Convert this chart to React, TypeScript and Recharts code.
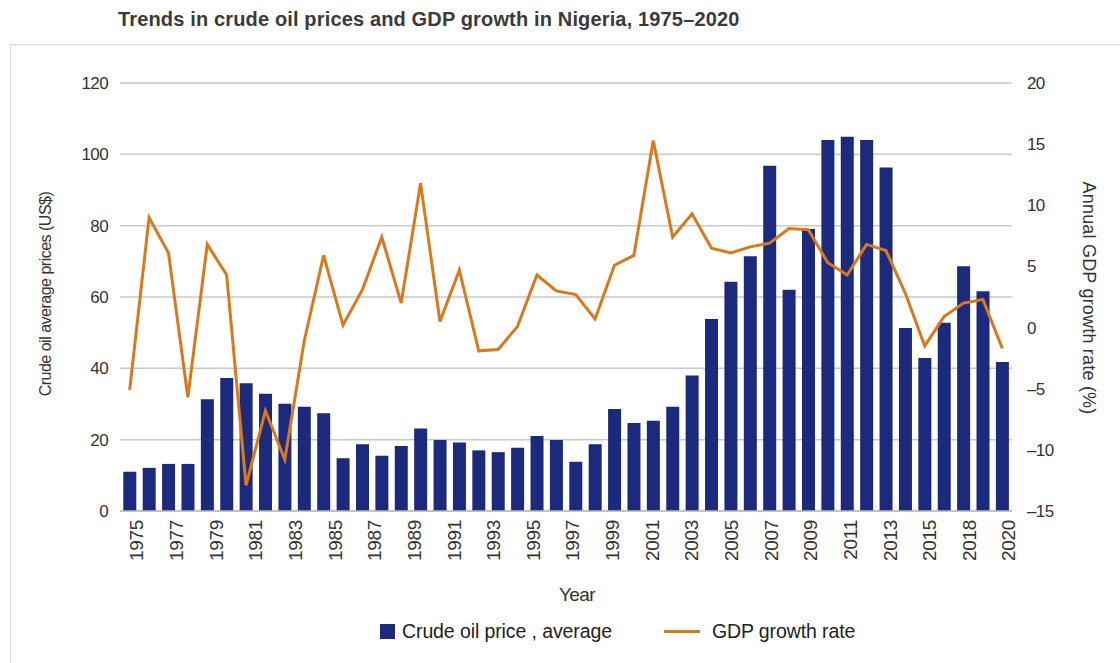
import {
  ComposedChart,
  Bar,
  Line,
  XAxis,
  YAxis,
  CartesianGrid,
  Legend,
} from 'recharts';

const years = [
  '1975', '1976', '1977', '1978', '1979', '1980', '1981', '1982', '1983', '1984',
  '1985', '1986', '1987', '1988', '1989', '1990', '1991', '1992', '1993', '1994',
  '1995', '1996', '1997', '1998', '1999', '2000', '2001', '2002', '2003', '2004',
  '2005', '2006', '2007', '2008', '2009', '2010', '2011', '2012', '2013', '2014',
  '2015', '2016', '2017', '2018', '2019', '2020',
];

// crude oil price, average (US$)
const oilPrice = [
  11.0, 12.1, 13.2, 13.2, 31.3, 37.3, 35.8, 32.9, 30.1, 29.2,
  27.4, 14.8, 18.7, 15.5, 18.2, 23.1, 19.9, 19.2, 17.0, 16.5,
  17.7, 21.0, 19.9, 13.8, 18.7, 28.6, 24.7, 25.3, 29.2, 38.0,
  53.8, 64.3, 71.4, 96.8, 62.0, 79.1, 104.0, 104.9, 104.0, 96.3,
  51.3, 42.9, 52.8, 68.6, 61.6, 41.8,
];

// annual GDP growth rate (%)
const gdpGrowth = [
  -5.1, 9.0, 6.1, -5.7, 6.8, 4.3, -12.9, -6.8, -10.8, -1.1,
  5.9, 0.2, 3.1, 7.4, 2.0, 11.8, 0.5, 4.7, -1.9, -1.8,
  0.1, 4.3, 3.0, 2.7, 0.7, 5.1, 5.9, 15.3, 7.4, 9.3,
  6.5, 6.1, 6.6, 6.9, 8.1, 8.0, 5.3, 4.3, 6.8, 6.3,
  2.8, -1.5, 0.9, 2.0, 2.3, -1.7,
];

// x axis labels as printed (every other year, spread across the bars)
const xTickLabels = [
  '1975', '1977', '1979', '1981', '1983', '1985', '1987', '1989', '1991', '1993',
  '1995', '1997', '1999', '2001', '2003', '2005', '2007', '2009', '2011', '2013',
  '2015', '2018', '2020',
];

const priceTicks = [0, 20, 40, 60, 80, 100, 120];
const growthTicks = [-15, -10, -5, 0, 5, 10, 15, 20];

const BAR_COLOR = '#1b2a7d';
const LINE_COLOR = '#d9791a';
const TEXT_COLOR = '#333333';
const FONT = '"Liberation Sans", Arial, sans-serif';

const chartData = years.map((year, i) => ({
  year,
  oil: oilPrice[i],
  gdp: gdpGrowth[i],
}));

const labelData = xTickLabels.map((label) => ({ label }));

function renderLegend(props: any) {
  const items = (props.payload || []).filter((p: any) => p.type !== 'none');
  return (
    <div style={{ display: 'flex', alignItems: 'center', marginLeft: 380, height: 30 }}>
      {items.map((entry: any) => (
        <div
          key={entry.value}
          style={{ display: 'flex', alignItems: 'center', marginRight: 52 }}
        >
          {entry.type === 'square' ? (
            <span style={{ width: 15, height: 15, background: entry.color, marginRight: 7 }} />
          ) : (
            <span style={{ width: 36, height: 3, background: entry.color, marginRight: 12 }} />
          )}
          <span style={{ fontSize: 19.5, color: '#222', letterSpacing: -0.1 }}>{entry.value}</span>
        </div>
      ))}
    </div>
  );
}

function AxisTitle({ x, y, angle, size, spacing, text }: any) {
  return (
    <text
      x={x}
      y={y}
      transform={`rotate(${angle} ${x} ${y})`}
      textAnchor="middle"
      dominantBaseline="central"
      fontSize={size}
      fill={TEXT_COLOR}
      letterSpacing={spacing}
    >
      {text}
    </text>
  );
}

function App() {
  return (
    <div
      style={{
        position: 'fixed',
        left: 0,
        top: 0,
        width: 1120,
        height: 663,
        background: '#fff',
        fontFamily: FONT,
        overflow: 'hidden',
      }}
    >
      <div
        style={{
          position: 'absolute',
          left: 118,
          top: 8,
          fontSize: 20,
          fontWeight: 'bold',
          color: '#3a3a3a',
          letterSpacing: 0.15,
        }}
      >
        Trends in crude oil prices and GDP growth in Nigeria, 1975–2020
      </div>
      <div
        style={{
          position: 'absolute',
          left: 10,
          top: 44,
          width: 1120,
          height: 700,
          border: '1px solid #d6d6d6',
        }}
      />
      <div style={{ position: 'absolute', left: 0, top: 0 }}>
        <ComposedChart
          width={1120}
          height={663}
          data={chartData}
          margin={{ top: 83, right: 0, bottom: 30, left: 0 }}
          barCategoryGap="17%"
          style={{ fontFamily: FONT }}
        >
          <CartesianGrid yAxisId="left" vertical={false} stroke="#c9c9c9" strokeWidth={1.5} />
          <XAxis dataKey="year" hide height={0} />
          <XAxis
            xAxisId="lbl"
            dataKey="label"
            type="category"
            scale="point"
            padding={{ left: 10, right: 10 }}
            height={92}
            interval={0}
            tickLine={false}
            tickSize={0}
            tickMargin={9}
            axisLine={{ stroke: '#bdbdbd', strokeWidth: 1.5 }}
            tick={{
              angle: -90,
              textAnchor: 'end',
              verticalAnchor: 'middle',
              fontSize: 19,
              fill: TEXT_COLOR,
              letterSpacing: -0.3,
            }}
            label={{
              value: 'Year',
              position: 'insideBottom',
              offset: 2,
              dx: 11,
              fontSize: 19,
              fill: TEXT_COLOR,
              letterSpacing: -0.6,
            }}
          />
          <YAxis
            yAxisId="left"
            domain={[0, 120]}
            ticks={priceTicks}
            width={120}
            axisLine={false}
            tickLine={false}
            tickSize={0}
            tickMargin={12}
            tick={{ fontSize: 17, fill: TEXT_COLOR, letterSpacing: -0.6 }}
            label={{
              content: () => (
                <AxisTitle
                  x={45}
                  y={294}
                  angle={-90}
                  size={16}
                  spacing={-0.5}
                  text="Crude oil average prices (US$)"
                />
              ),
            }}
          />
          <YAxis
            yAxisId="right"
            orientation="right"
            domain={[-15, 20]}
            ticks={growthTicks}
            width={108}
            axisLine={false}
            tickLine={false}
            tickSize={0}
            tickMargin={15}
            tickFormatter={(v: number) => String(v).replace('-', '–')}
            tick={{ fontSize: 17, fill: TEXT_COLOR, letterSpacing: -0.6 }}
            label={{
              content: () => (
                <AxisTitle
                  x={1089}
                  y={298}
                  angle={90}
                  size={18}
                  spacing={0.2}
                  text="Annual GDP growth rate (%)"
                />
              ),
            }}
          />
          <Bar
            yAxisId="left"
            dataKey="oil"
            name="Crude oil price , average"
            fill={BAR_COLOR}
            legendType="square"
            isAnimationActive={false}
          />
          <Line
            yAxisId="right"
            type="linear"
            dataKey="gdp"
            name="GDP growth rate"
            stroke={LINE_COLOR}
            strokeWidth={3}
            dot={false}
            activeDot={false}
            legendType="plainline"
            isAnimationActive={false}
          />
          {/* carries the printed year labels on their own axis */}
          <Line
            xAxisId="lbl"
            yAxisId="right"
            data={labelData}
            dataKey="none"
            stroke="none"
            dot={false}
            activeDot={false}
            legendType="none"
            isAnimationActive={false}
          />
          <Legend
            content={renderLegend}
            wrapperStyle={{ left: 0, top: 616, bottom: 'auto', width: 1120 }}
          />
        </ComposedChart>
      </div>
    </div>
  );
}

export default App;
